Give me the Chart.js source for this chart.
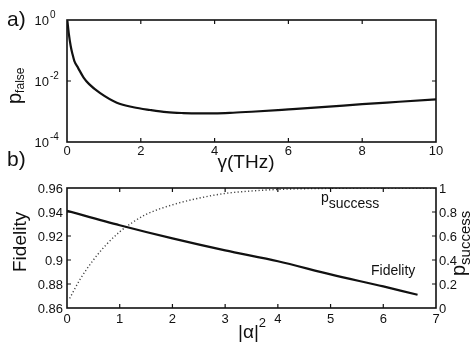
<!DOCTYPE html>
<html>
<head>
<meta charset="utf-8">
<script src="https://cdn.jsdelivr.net/npm/chart.js@4.4.1/dist/chart.umd.min.js"></script>
<style>
  html, body { margin: 0; padding: 0; background: #fff; }
  #wrap { position: relative; width: 474px; height: 347px; }
  canvas { position: absolute; left: 0; top: 0; }
</style>
</head>
<body>
<div id="wrap">
  <canvas id="topChart" width="474" height="347"></canvas>
  <canvas id="bottomChart" width="474" height="347"></canvas>
</div>
<script>
// --- data (a): false-positive probability vs gamma
var gammaTHz = [0.01, 0.05, 0.1, 0.15, 0.2, 0.3, 0.45, 0.6, 0.9, 1.35, 1.8, 2.25, 2.7, 3.15, 3.6, 4.0, 4.5, 5, 6, 7, 8, 9, 10];
var pFalse = [0.95, 0.35, 0.14, 0.075, 0.045, 0.027, 0.013, 0.0079, 0.0040, 0.00195, 0.00138, 0.00112, 0.00095, 0.00089, 0.00087, 0.00087, 0.00091, 0.00098, 0.00117, 0.00141, 0.00174, 0.00209, 0.00251];

// --- data (b): fidelity and success probability vs |alpha|^2
var alphaSqFid = [0, 1, 2, 3, 4, 5, 6, 6.65];
var fidelity = [0.941, 0.929, 0.918, 0.908, 0.899, 0.888, 0.878, 0.871];
var alphaSqSucc = [0.05, 0.25, 0.5, 0.75, 1.0, 1.25, 1.5, 2.0, 2.5, 3.0, 3.5, 4.0, 5, 6, 7];
var pSuccess = [0.08, 0.24, 0.40, 0.53, 0.635, 0.715, 0.78, 0.86, 0.915, 0.955, 0.975, 0.988, 0.997, 1.0, 1.0];

// --- tick labels
var topXTicks = [0, 2, 4, 6, 8, 10];
var topYExp = [0, -2, -4];
var botXTicks = [0, 1, 2, 3, 4, 5, 6, 7];
var fidTicks = [0.86, 0.88, 0.9, 0.92, 0.94, 0.96];
var succTicks = [0, 0.2, 0.4, 0.6, 0.8, 1];

var FONT = '"Liberation Sans", Arial, Helvetica, sans-serif';
var INK = '#111';

function pts(xs, ys) {
    return xs.map(function (x, i) { return { x: x, y: ys[i] }; });
}

function frame(ctx, a) {
    ctx.save();
    ctx.strokeStyle = INK;
    ctx.lineWidth = 1.6;
    ctx.strokeRect(a.left, a.top, a.right - a.left, a.bottom - a.top);
    ctx.restore();
}

function vTick(ctx, a, x) {
    ctx.beginPath();
    ctx.moveTo(x, a.bottom); ctx.lineTo(x, a.bottom - 4);
    ctx.moveTo(x, a.top); ctx.lineTo(x, a.top + 4);
    ctx.stroke();
}

function rotText(ctx, parts, x, y) {
    // parts: [text, fontSize, baselineShift]
    ctx.save();
    ctx.translate(x, y);
    ctx.rotate(-Math.PI / 2);
    ctx.textAlign = 'left';
    ctx.textBaseline = 'alphabetic';
    var off = 0;
    parts.forEach(function (p) {
        ctx.font = p[1] + 'px ' + FONT;
        ctx.fillText(p[0], off, p[2]);
        off += ctx.measureText(p[0]).width;
    });
    ctx.restore();
}

var noAxis = {
    display: true,
    ticks: { display: false },
    grid: { display: false },
    border: { display: false },
    afterFit: function (s) { if (s.isHorizontal()) { s.height = 0; } else { s.width = 0; } }
};

var topPlugin = {
    id: 'topDecor',
    afterDraw: function (chart) {
        var ctx = chart.ctx, a = chart.chartArea;
        var sx = chart.scales.x, sy = chart.scales.y;
        frame(ctx, a);
        ctx.save();
        ctx.strokeStyle = INK;
        ctx.lineWidth = 1.2;
        topXTicks.forEach(function (v) {
            if (v > 0 && v < 10) vTick(ctx, a, sx.getPixelForValue(v));
        });
        var y2 = sy.getPixelForValue(1e-2);
        ctx.beginPath();
        ctx.moveTo(a.left, y2); ctx.lineTo(a.left + 4, y2);
        ctx.moveTo(a.right, y2); ctx.lineTo(a.right - 4, y2);
        ctx.stroke();

        ctx.fillStyle = INK;
        ctx.font = '13px ' + FONT;
        ctx.textAlign = 'center';
        ctx.textBaseline = 'top';
        topXTicks.forEach(function (v) {
            ctx.fillText(String(v), sx.getPixelForValue(v), a.bottom + 3);
        });
        topYExp.forEach(function (e) {
            var y = sy.getPixelForValue(Math.pow(10, e));
            ctx.font = '13px ' + FONT;
            ctx.textAlign = 'right';
            ctx.textBaseline = 'middle';
            ctx.fillText('10', a.left - 18, y + 1);
            ctx.font = '10px ' + FONT;
            ctx.textAlign = 'left';
            ctx.fillText(e === 0 ? '0' : '-' + Math.abs(e), a.left - 17, y - 5);
        });

        // labels
        ctx.font = '21px ' + FONT;
        ctx.textAlign = 'left';
        ctx.textBaseline = 'alphabetic';
        ctx.fillText('a)', 7, 26);
        ctx.font = '19px ' + FONT;
        ctx.textAlign = 'center';
        ctx.fillText('\u03B3(THz)', 246, 168);
        rotText(ctx, [['p', 20, 0], ['false', 12, 3]], 21, 104);
        ctx.restore();
    }
};

var bottomPlugin = {
    id: 'bottomDecor',
    afterDraw: function (chart) {
        var ctx = chart.ctx, a = chart.chartArea;
        var sx = chart.scales.x, sy = chart.scales.y, sy1 = chart.scales.y1;
        frame(ctx, a);
        ctx.save();
        ctx.strokeStyle = INK;
        ctx.lineWidth = 1.2;
        botXTicks.forEach(function (v) {
            if (v > 0 && v < 7) vTick(ctx, a, sx.getPixelForValue(v));
        });
        ctx.beginPath();
        fidTicks.forEach(function (v, i) {
            if (i === 0 || i === fidTicks.length - 1) return;
            var y = sy.getPixelForValue(v);
            ctx.moveTo(a.left, y); ctx.lineTo(a.left + 4, y);
        });
        succTicks.forEach(function (v, i) {
            if (i === 0 || i === succTicks.length - 1) return;
            var y = sy1.getPixelForValue(v);
            ctx.moveTo(a.right, y); ctx.lineTo(a.right - 4, y);
        });
        ctx.stroke();

        ctx.fillStyle = INK;
        ctx.font = '13px ' + FONT;
        ctx.textAlign = 'center';
        ctx.textBaseline = 'top';
        botXTicks.forEach(function (v) {
            ctx.fillText(String(v), sx.getPixelForValue(v), a.bottom + 5);
        });
        ctx.textBaseline = 'middle';
        ctx.textAlign = 'right';
        fidTicks.forEach(function (v) {
            ctx.fillText(String(v), a.left - 4, sy.getPixelForValue(v) + 1);
        });
        ctx.textAlign = 'left';
        succTicks.forEach(function (v) {
            ctx.fillText(String(v), a.right + 3, sy1.getPixelForValue(v) + 1);
        });

        // labels
        ctx.textBaseline = 'alphabetic';
        ctx.font = '21px ' + FONT;
        ctx.fillText('b)', 7, 166);
        ctx.font = '19px ' + FONT;
        ctx.fillText('|\u03B1|', 238, 338);
        var w = ctx.measureText('|\u03B1|').width;
        ctx.font = '13px ' + FONT;
        ctx.fillText('2', 238 + w, 327);
        rotText(ctx, [['Fidelity', 19, 0]], 26, 272);
        rotText(ctx, [['p', 20, 0], ['success', 15, 5]], 465, 276);

        // in-plot annotations
        ctx.font = '14px ' + FONT;
        ctx.fillText('p', 321, 202);
        var pw = ctx.measureText('p').width;
        ctx.fillText('success', 321 + pw, 208);
        ctx.fillText('Fidelity', 371, 275);
        ctx.restore();
    }
};

new Chart(document.getElementById('topChart'), {
    type: 'line',
    data: {
        datasets: [{
            data: pts(gammaTHz, pFalse),
            borderColor: INK,
            borderWidth: 2.2,
            pointRadius: 0,
            cubicInterpolationMode: 'monotone'
        }]
    },
    options: {
        responsive: false,
        animation: false,
        devicePixelRatio: 1,
        layout: { padding: { left: 67, right: 38, top: 20, bottom: 347 - 142 } },
        plugins: { legend: { display: false }, tooltip: { enabled: false } },
        scales: {
            x: Object.assign({}, noAxis, { type: 'linear', min: 0, max: 10 }),
            y: Object.assign({}, noAxis, { type: 'logarithmic', min: 1e-4, max: 1 })
        }
    },
    plugins: [topPlugin]
});

new Chart(document.getElementById('bottomChart'), {
    type: 'line',
    data: {
        datasets: [{
            label: 'Fidelity',
            data: pts(alphaSqFid, fidelity),
            yAxisID: 'y',
            borderColor: INK,
            borderWidth: 2.2,
            pointRadius: 0,
            tension: 0.3
        }, {
            label: 'p_success',
            data: pts(alphaSqSucc, pSuccess),
            yAxisID: 'y1',
            borderColor: '#444',
            borderWidth: 1.4,
            borderDash: [1.2, 2.3],
            pointRadius: 0,
            cubicInterpolationMode: 'monotone'
        }]
    },
    options: {
        responsive: false,
        animation: false,
        devicePixelRatio: 1,
        layout: { padding: { left: 67, right: 38, top: 188, bottom: 347 - 308 } },
        plugins: { legend: { display: false }, tooltip: { enabled: false } },
        scales: {
            x: Object.assign({}, noAxis, { type: 'linear', min: 0, max: 7 }),
            y: Object.assign({}, noAxis, { type: 'linear', position: 'left', min: 0.86, max: 0.96 }),
            y1: Object.assign({}, noAxis, { type: 'linear', position: 'right', min: 0, max: 1 })
        }
    },
    plugins: [bottomPlugin]
});
</script>
</body>
</html>
